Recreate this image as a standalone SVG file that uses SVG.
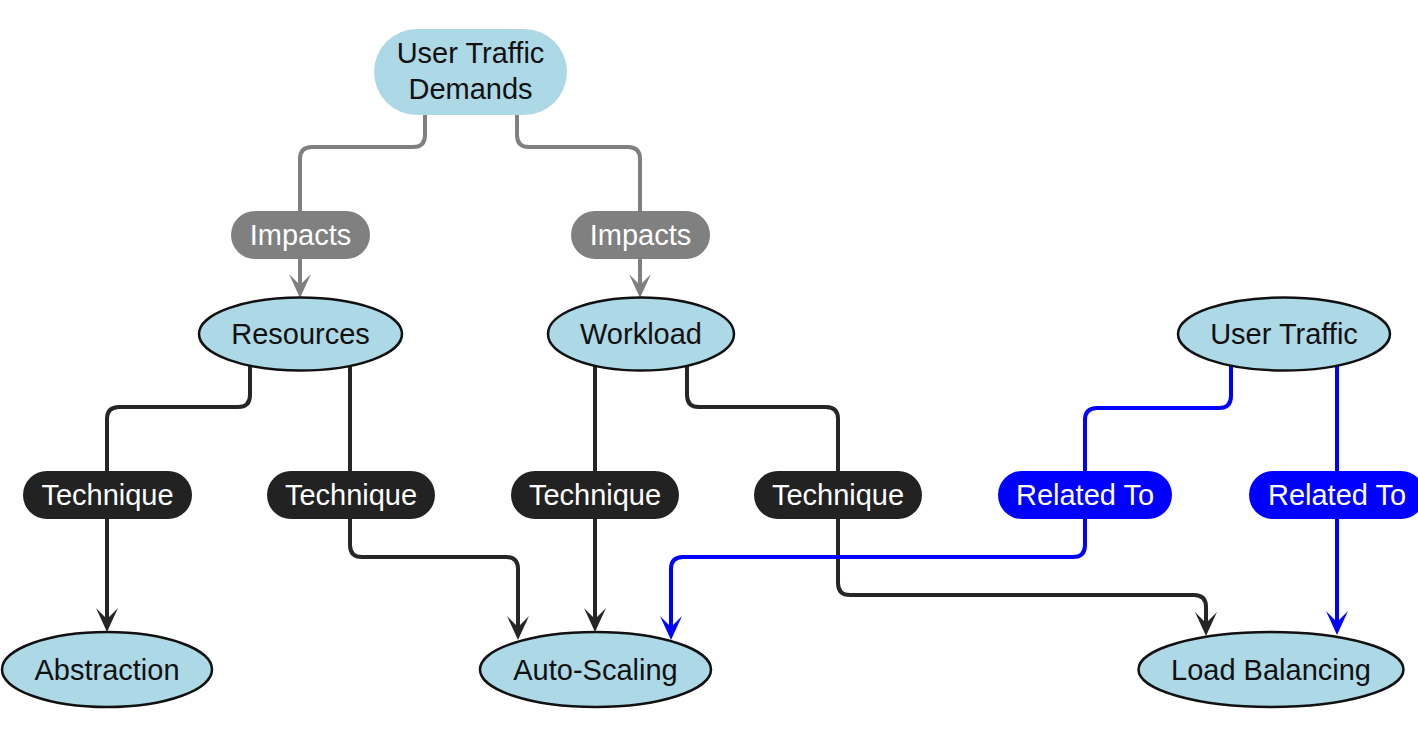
<svg xmlns="http://www.w3.org/2000/svg" width="1418" height="749" viewBox="0 0 1418 749">
<style>
.bg{fill:#ffffff}
.edge{fill:none;stroke-width:4;stroke-linejoin:round}
.gray{stroke:#808080}
.dark{stroke:#262626}
.blue{stroke:#0000ff}
.pill-gray{fill:#808080}
.pill-dark{fill:#222222}
.pill-blue{fill:#0000ff}
.lbl{font-family:"Liberation Sans",Arial,Helvetica,sans-serif;font-size:29px;fill:#ffffff;text-anchor:middle}
.node{fill:#add8e6;stroke:#111111;stroke-width:2.5}
.ntxt{font-family:"Liberation Sans",Arial,Helvetica,sans-serif;font-size:29px;fill:#111111;text-anchor:middle}
</style>
<defs>
<marker id="ah-gray" markerUnits="userSpaceOnUse" markerWidth="26" markerHeight="24" refX="18" refY="11" orient="auto" viewBox="0 0 26 24">
<path d="M0,0 L24,11 L0,22 L11,11 Z" fill="#808080"/>
</marker>
<marker id="ah-dark" markerUnits="userSpaceOnUse" markerWidth="26" markerHeight="24" refX="18" refY="11" orient="auto" viewBox="0 0 26 24">
<path d="M0,0 L24,11 L0,22 L11,11 Z" fill="#262626"/>
</marker>
<marker id="ah-blue" markerUnits="userSpaceOnUse" markerWidth="26" markerHeight="24" refX="18" refY="11" orient="auto" viewBox="0 0 26 24">
<path d="M0,0 L24,11 L0,22 L11,11 Z" fill="#0000ff"/>
</marker>
</defs>
<rect class="bg" x="0" y="0" width="1418" height="749"/>
<g id="connectors">
<path class="edge gray" d="M425,100 V135 Q425,147 413,147 H312 Q300,147 300,159 V292" marker-end="url(#ah-gray)"/>
<path class="edge gray" d="M517,100 V135 Q517,147 529,147 H628 Q640,147 640,159 V292" marker-end="url(#ah-gray)"/>
<path class="edge dark" d="M250,350 V395 Q250,407 238,407 H119 Q107,407 107,419 V626" marker-end="url(#ah-dark)"/>
<path class="edge dark" d="M350,350 V545 Q350,557 362,557 H506 Q518,557 518,569 V634" marker-end="url(#ah-dark)"/>
<path class="edge dark" d="M595,350 V626" marker-end="url(#ah-dark)"/>
<path class="edge dark" d="M687,350 V395 Q687,407 699,407 H826 Q838,407 838,419 V583 Q838,595 850,595 H1194 Q1206,595 1206,607 V630" marker-end="url(#ah-dark)"/>
<path class="edge blue" d="M1231,350 V396 Q1231,408 1219,408 H1097 Q1085,408 1085,420 V545 Q1085,557 1073,557 H683 Q671,557 671,569 V634" marker-end="url(#ah-blue)"/>
<path class="edge blue" d="M1337,350 V629" marker-end="url(#ah-blue)"/>
<g id="edge-labels">
<rect class="pill-gray" x="231" y="211" width="139" height="48" rx="24"/>
<text class="lbl" x="300.5" y="245">Impacts</text>
<rect class="pill-gray" x="571" y="211" width="139" height="48" rx="24"/>
<text class="lbl" x="640.5" y="245">Impacts</text>
<rect class="pill-dark" x="23" y="471" width="169" height="48" rx="24"/>
<text class="lbl" x="107.5" y="505">Technique</text>
<rect class="pill-dark" x="267" y="471" width="168" height="48" rx="24"/>
<text class="lbl" x="351" y="505">Technique</text>
<rect class="pill-dark" x="511" y="471" width="168" height="48" rx="24"/>
<text class="lbl" x="595" y="505">Technique</text>
<rect class="pill-dark" x="754" y="471" width="168" height="48" rx="24"/>
<text class="lbl" x="838" y="505">Technique</text>
<rect class="pill-blue" x="998" y="471" width="174" height="48" rx="24"/>
<text class="lbl" x="1085" y="505">Related To</text>
<rect class="pill-blue" x="1249" y="471" width="176" height="48" rx="24"/>
<text class="lbl" x="1337" y="505">Related To</text>
</g>
</g>
<g id="node-user-traffic-demands">
<rect x="374" y="29" width="193" height="86" rx="43" fill="#add8e6"/>
<text class="ntxt" x="470.5" y="63">User Traffic</text>
<text class="ntxt" x="470.5" y="99">Demands</text>
</g>
<g id="node-resources">
<ellipse class="node" cx="300.5" cy="334" rx="101.5" ry="36.5"/>
<text class="ntxt" x="300.5" y="344">Resources</text>
</g>
<g id="node-workload">
<ellipse class="node" cx="641" cy="334" rx="93" ry="36.5"/>
<text class="ntxt" x="641" y="344">Workload</text>
</g>
<g id="node-user-traffic">
<ellipse class="node" cx="1284" cy="334" rx="106" ry="36.5"/>
<text class="ntxt" x="1284" y="344">User Traffic</text>
</g>
<g id="node-abstraction">
<ellipse class="node" cx="107" cy="669.5" rx="105" ry="37.5"/>
<text class="ntxt" x="107" y="680">Abstraction</text>
</g>
<g id="node-auto-scaling">
<ellipse class="node" cx="595.5" cy="669.5" rx="115.5" ry="37.5"/>
<text class="ntxt" x="595.5" y="680">Auto-Scaling</text>
</g>
<g id="node-load-balancing">
<ellipse class="node" cx="1271" cy="669.5" rx="132.5" ry="37.5"/>
<text class="ntxt" x="1271" y="680">Load Balancing</text>
</g>
</svg>
